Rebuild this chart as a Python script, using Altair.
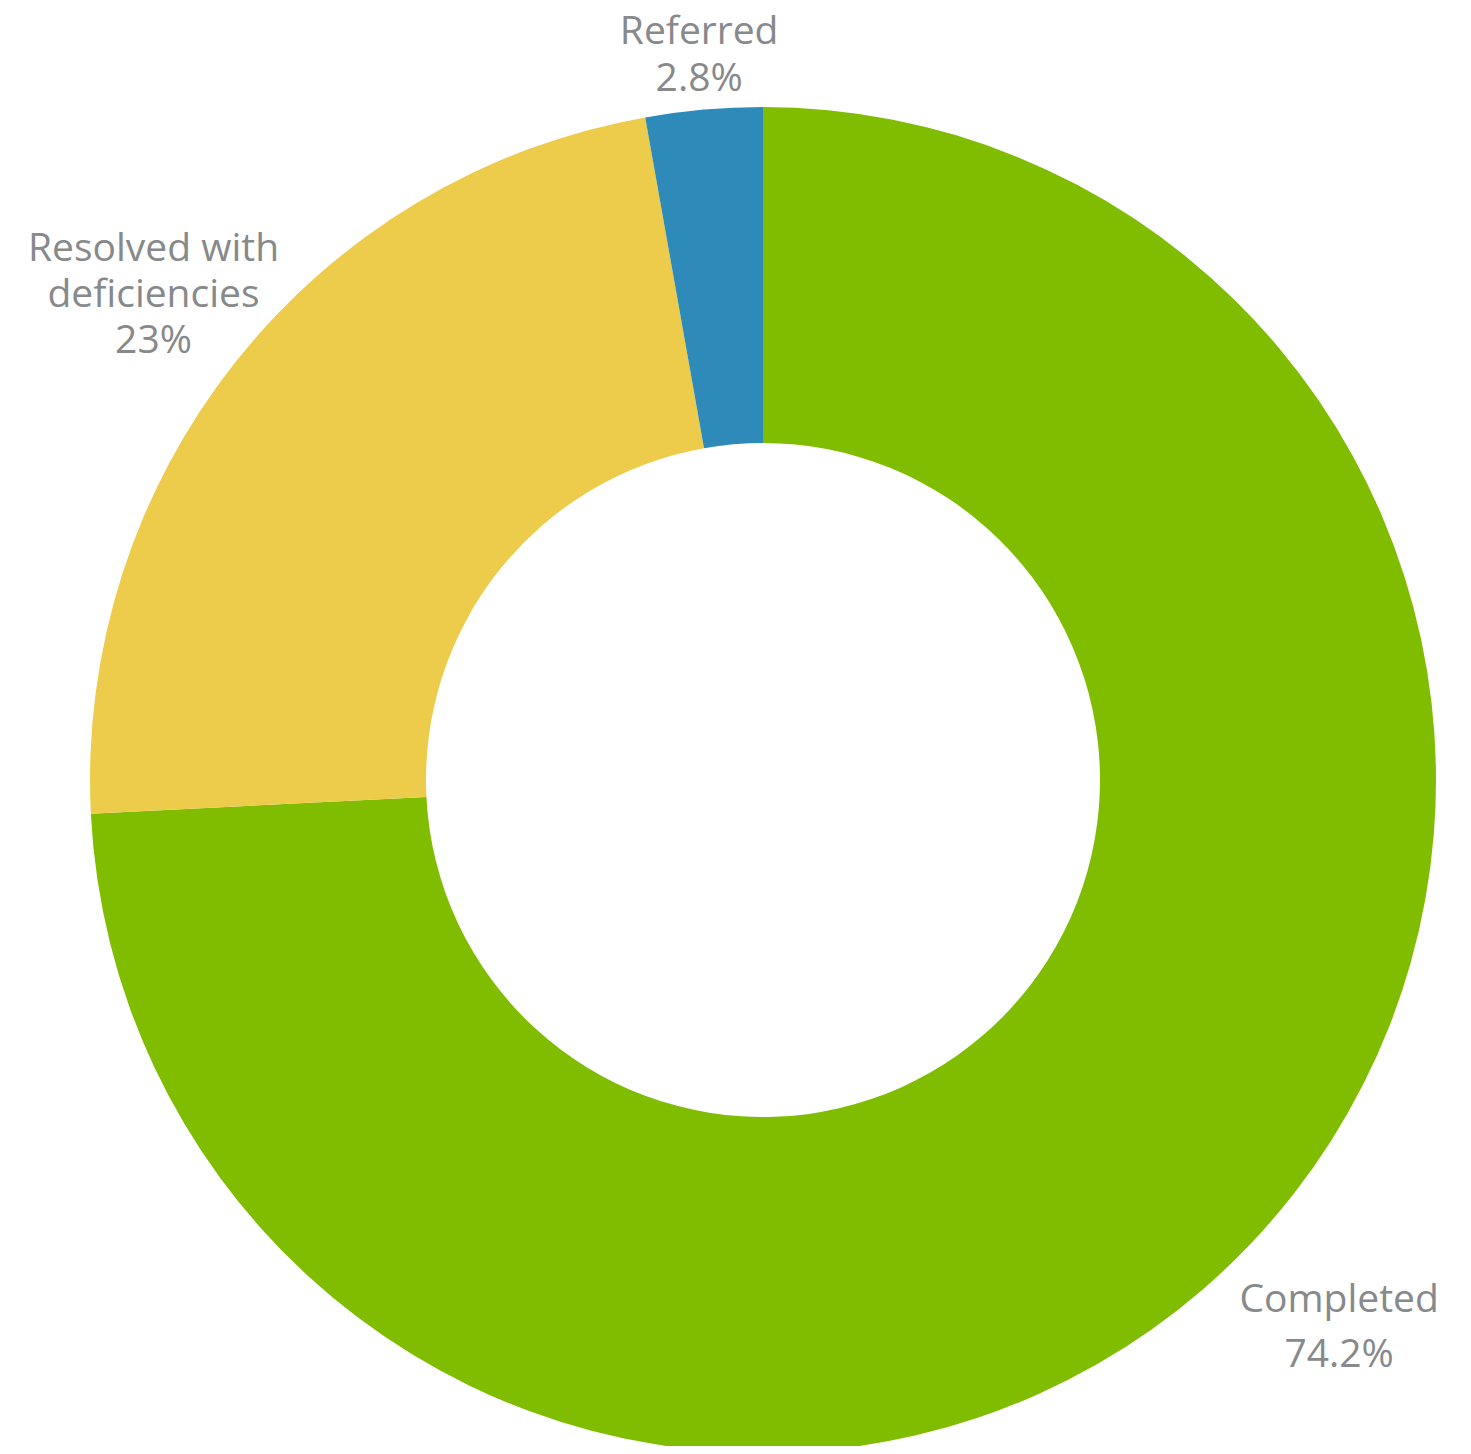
import altair as alt
import pandas as pd

categories = ["Completed", "Resolved with deficiencies", "Referred"]
values = [74.2, 23.0, 2.8]
labels = ["Completed\n74.2%", "Resolved with\ndeficiencies\n23%", "Referred\n2.8%"]
colors = ["#80BC00", "#ECCC4A", "#2E8AB8"]

df = pd.DataFrame({
    "category": categories,
    "value": values,
    "idx": list(range(len(categories))),
    "label": labels,
})

CX, CY = 755, 772
TEXT_COLOR = "#87898B"
FONT = "Open Sans"
FS = 39

base = alt.Chart(df)

arc = base.mark_arc(outerRadius=673, innerRadius=337, strokeWidth=0).encode(
    theta=alt.Theta("value:Q", stack=True, scale=alt.Scale(domain=[0, 100])),
    color=alt.Color("category:N", scale=alt.Scale(domain=categories, range=colors), legend=None),
    order=alt.Order("idx:Q"),
    x=alt.value(CX),
    y=alt.value(CY),
)

def label_layer(cat, radius, line_height, n_lines):
    return (
        base.transform_window(cum="sum(value)", sort=[alt.SortField("idx")])
        .transform_calculate(mid="datum.cum - datum.value / 2")
        .transform_filter(alt.datum.category == cat)
        .mark_text(
            radius=radius,
            lineBreak="\n",
            lineHeight=line_height,
            fontSize=FS,
            font=FONT,
            color=TEXT_COLOR,
            align="center",
            baseline="middle",
            dy=-(n_lines - 1) * line_height / 2,
        )
        .encode(
            theta=alt.Theta("mid:Q", stack=False, scale=alt.Scale(domain=[0, 100])),
            text="label:N",
            x=alt.value(CX),
            y=alt.value(CY),
        )
    )

chart = alt.layer(
    arc,
    label_layer("Completed", 795, 55, 2),
    label_layer("Resolved with deficiencies", 779, 46, 3),
    label_layer("Referred", 727, 47, 2),
).properties(
    width=1455, height=1438, padding=0, autosize=alt.AutoSizeParams(type="none")
).configure_view(stroke=None)

chart.save("out.html", embed_options={"renderer": "svg", "actions": False})
